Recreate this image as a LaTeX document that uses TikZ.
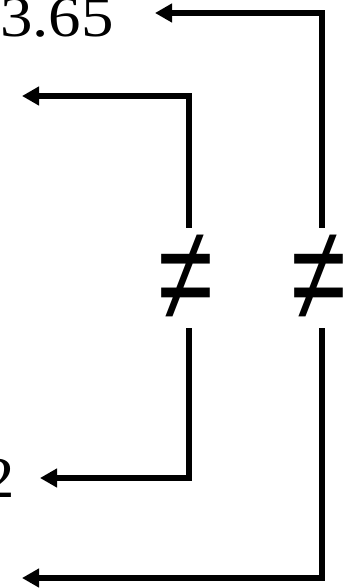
\documentclass[tikz,border=0pt]{standalone}
\usepackage{fontspec}
\setmainfont{Liberation Serif}
\newfontfamily\symfont{Liberation Sans}
\usetikzlibrary{arrows.meta, positioning}

\begin{document}
\begin{tikzpicture}[x=1pt, y=1pt,
    val/.style={inner sep=0pt, xscale=1.12, font=\fontsize{58}{58}\selectfont},
    neq/.style={inner sep=0pt, minimum height=74pt, yscale=1.35, font=\symfont\fontsize{100}{100}\selectfont},
    arr/.style={-{Triangle[length=17pt, width=18pt]}, line width=6pt},
]
    \useasboundingbox (0,0) rectangle (349,-588);
    \clip (0,0) rectangle (349,-588);

    % values
    \node[val, anchor=base west] (top) at (0,-37) {3.65};
    \node[val, anchor=base east] (low) at (15,-497) {2};

    % the two comparisons
    \node[neq] (ne1) at (186,-278) {≠};
    \node[neq] (ne2) at (319,-278) {≠};

    % arrow ends
    \coordinate (t1) at (155,-13);
    \coordinate (t2) at (22,-96);
    \coordinate (t3) at (40,-478);
    \coordinate (t4) at (22,-578);

    \draw[arr] ([xshift=3pt]ne2.north) |- (t1);
    \draw[arr] ([xshift=3pt]ne1.north) |- (t2);
    \draw[arr] ([xshift=3pt]ne1.south) |- (t3);
    \draw[arr] ([xshift=3pt]ne2.south) |- (t4);
\end{tikzpicture}
\end{document}
